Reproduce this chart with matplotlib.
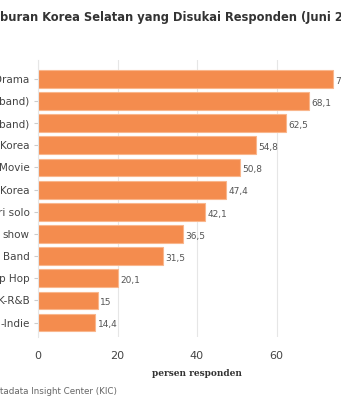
import numpy as np
import matplotlib
matplotlib.use("Agg")
import matplotlib.pyplot as plt

# data (the reference is a crop, so only the visible parts of the labels are kept)
labels = ["Drama", "(band)", "(band)", "Korea", "Movie", "Korea",
          "ri solo", "show", "Band", "p Hop", "K-R&B", "-Indie"]
values = [74.2, 68.1, 62.5, 54.8, 50.8, 47.4, 42.1, 36.5, 31.5, 20.1, 15, 14.4]
xticks = [0, 20, 40, 60]

title = "buran Korea Selatan yang Disukai Responden (Juni 2020)"
source = "tadata Insight Center (KIC)"

bar_color = '#F48C4E'
text_gray = '#444444'

fig = plt.figure(figsize=(3.41, 4.0), dpi=100)
# axes runs off the right edge, as in the cropped reference
ax = fig.add_axes([38/341, 1 - 337/400, 318/341, 277/400])

y = np.arange(len(values))
ax.barh(y, values, height=0.8, color=bar_color, edgecolor='#F9B68C', linewidth=0.8, zorder=2)
ax.set_ylim(len(values) - 0.35, -0.85)
ax.set_xlim(0, 80)

for yi, v in zip(y, values):
    ax.text(v + 0.6, yi + 0.1, f"{v:g}".replace('.', ','), va='center', ha='left',
            fontsize=6.5, color='#555555')

ax.set_yticks(y)
ax.set_yticklabels(labels, fontsize=7.5, color=text_gray)
ax.set_xticks(xticks)
ax.set_xticklabels([str(t) for t in xticks], fontsize=8, color=text_gray)
ax.tick_params(axis='y', length=3, color='#cccccc', pad=3)
ax.tick_params(axis='x', length=0, pad=10)

ax.grid(axis='x', color='#e6e6e6', linewidth=0.8, zorder=0)
for s in ['top', 'right', 'bottom']:
    ax.spines[s].set_visible(False)
ax.spines['left'].set_color('#e6e6e6')

ax.set_xlabel("persen responden", fontsize=6.5, fontweight='bold', family='DejaVu Serif',
              color='#333333', labelpad=6)

fig.text(0, 1 - 17/400, title, ha='left', va='center', fontsize=8.3,
         fontweight='bold', color='#333333')
fig.text(0, 1 - 392/400, source, ha='left', va='center', fontsize=6.3, color='#666666')

fig.savefig("out.png", dpi=100)
